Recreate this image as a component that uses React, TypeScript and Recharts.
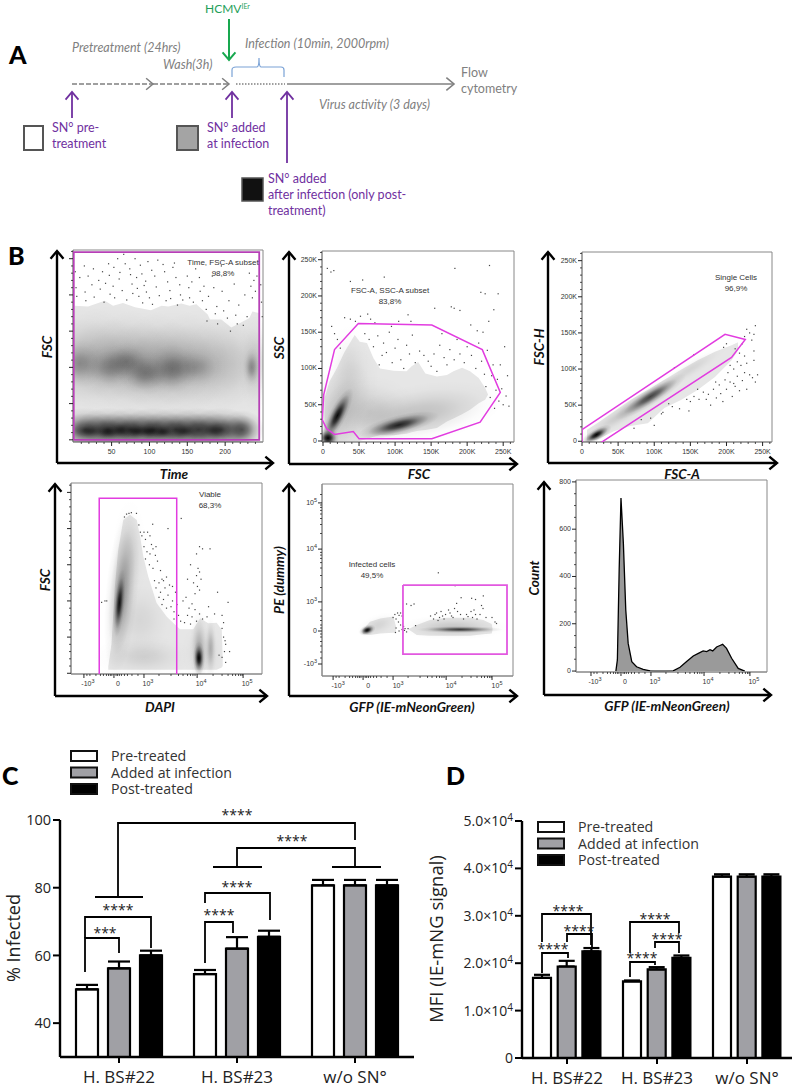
import { BarChart, Bar, ComposedChart, Area, Scatter, XAxis, YAxis, ErrorBar, ReferenceArea } from 'recharts'

// ---------- C / D bars ----------
const groups = ['H. BS#22', 'H. BS#23', 'w/o SN°']
const infectedPre = [50, 54.5, 80.7]
const infectedAdded = [56.2, 62, 80.7]
const infectedPost = [60, 65.5, 80.7]
const infectedPreErr = [1.3, 1.2, 1.6]
const infectedAddedErr = [2, 3.4, 1.6]
const infectedPostErr = [1.4, 1.8, 1.6]
const infectedTicks = [40, 60, 80, 100]

const mfiPre = [16900, 16150, 38270]
const mfiAdded = [19300, 18680, 38270]
const mfiPost = [22500, 21140, 38270]
const mfiPreErr = [650, 210, 490]
const mfiAddedErr = [1200, 490, 490]
const mfiPostErr = [700, 490, 490]
const mfiTicks = [0, 10000, 20000, 30000, 40000, 50000]

// ---------- B, shared axis ticks ----------
const kTicks = [0, 50, 100, 150, 200, 250]
const kLabels = ['0', '50K', '100K', '150K', '200K', '250K']
const kBlank = ['', '', '', '', '', '']
const kMinor = [10, 20, 30, 40, 60, 70, 80, 90, 110, 120, 130, 140, 160, 170, 180, 190, 210, 220, 230, 240, 260]
const timeTicks = [50, 100, 150, 200]
const timeLabels = ['50', '100', '150', '200']
const timeMinor = [10, 20, 30, 40, 60, 70, 80, 90, 110, 120, 130, 140, 160, 170, 180, 190, 210, 220, 230, 240]
const biexTicks = [-1, 0, 1, 2.77, 4.3]
const biexLabels = ['-10^3', '0', '10^3', '10^4', '10^5']
const biexMinor = [-0.9, -0.8, -0.6, -0.45, -0.35, -0.25, -0.18, -0.12, -0.07, 0.07, 0.12, 0.18, 0.25, 0.35, 0.45, 0.6, 0.8, 1.5, 1.9, 2.15, 2.3, 2.45, 2.55, 2.63, 2.7, 3.3, 3.6, 3.8, 3.95, 4.05, 4.15, 4.22, 4.27]
const peYTicks = [-1.1, 0, 0.97, 2.73, 4.27]
const peYLabels = ['-10^3', '0', '10^3', '10^4', '10^5']
const peYMinor = [-0.9, -0.7, -0.5, -0.35, -0.2, -0.1, 0.1, 0.2, 0.35, 0.5, 0.7, 1.45, 1.85, 2.1, 2.28, 2.42, 2.53, 2.62, 3.25, 3.55, 3.75, 3.9, 4.02, 4.12, 4.2, 4.55]
const countTicks = [0, 200, 400, 600, 800]
const countLabels = ['0', '200', '400', '600', '800']
const countMinor = [50, 100, 150, 250, 300, 350, 450, 500, 550, 650, 700, 750]

// ---------- B1, time vs FSC ----------
const timeBand = [[1, 185], [19, 184], [41, 192], [52, 185], [65, 189], [81, 183], [102, 179], [116, 185], [125, 184], [142, 188], [153, 185], [162, 187], [177, 173], [180, 166], [195, 166], [208, 155], [221, 162], [232, 168], [236, 177], [245, 175]]
const timeBlobs = [
  [10, 110, 45, 45, 0, 0.16], [50, 110, 45, 45, 0, 0.18], [90, 105, 45, 45, 0, 0.2], [130, 105, 45, 45, 0, 0.2], [170, 105, 45, 45, 0, 0.16], [210, 105, 40, 45, 0, 0.1], [240, 105, 14, 40, 0, 0.12],
  [8, 105, 20, 20, 0, 0.26], [48, 100, 22, 18, 0, 0.26], [70, 108, 20, 16, 0, 0.26], [95, 92, 22, 18, 0, 0.32], [130, 98, 20, 20, 0, 0.32], [160, 100, 22, 16, 0, 0.2], [235, 100, 7, 16, 0, 0.3],
  [15, 14, 26, 18, 0, 0.66], [45, 14, 26, 18, 0, 0.7], [75, 14, 26, 18, 0, 0.7], [105, 14, 26, 18, 0, 0.7], [135, 14, 26, 18, 0, 0.7], [165, 14, 26, 18, 0, 0.7], [195, 14, 26, 18, 0, 0.66], [222, 14, 18, 16, 0, 0.6],
  [20, 12, 14, 6, 0, 0.45], [45, 11, 10, 6, 0, 0.55], [62, 13, 10, 7, 0, 0.55], [82, 12, 11, 6, 0, 0.55], [100, 12, 12, 6, 0, 0.6], [118, 11, 9, 6, 0, 0.55], [145, 12, 12, 6, 0, 0.45], [187, 13, 12, 7, 0, 0.45],
]
const timeDots = [[2, 232], [3, 210], [4, 198], [8, 224], [14, 240], [15, 204], [16, 192], [19, 226], [24, 214], [26, 236], [27, 197], [33, 220], [35, 208], [38, 232], [40, 190], [42, 216], [46, 243], [47, 227], [48, 201], [52, 212], [53, 238], [54, 196], [58, 250], [60, 222], [61, 231], [64, 206], [66, 256], [68, 243], [70, 193], [74, 236], [75, 228], [77, 215], [78, 202], [81, 250], [83, 224], [84, 209], [86, 198], [88, 241], [90, 229], [91, 189], [93, 213], [95, 219], [96, 204], [98, 246], [100, 196], [103, 234], [104, 187], [107, 226], [109, 211], [111, 248], [113, 199], [118, 242], [120, 232], [122, 192], [124, 218], [127, 206], [128, 195], [131, 238], [133, 244], [135, 224], [137, 186], [140, 214], [141, 200], [144, 193], [150, 226], [152, 210], [153, 196], [156, 218], [158, 190], [161, 236], [166, 224], [167, 205], [170, 192], [172, 212], [175, 180], [176, 164], [178, 198], [183, 226], [185, 210], [187, 174], [189, 184], [190, 160], [195, 240], [196, 205], [198, 178], [203, 168], [205, 192], [207, 150], [212, 215], [214, 172], [216, 160], [218, 186], [224, 158], [226, 200], [229, 170], [232, 230], [234, 212], [236, 196], [238, 220], [240, 205], [242, 226], [247, 214], [248, 190], [249, 170]]
const timeGate = [[0, 0], [0, 259], [150, 259], [245, 259], [245, 0], [0, 0]]

// ---------- B2, FSC vs SSC ----------
const sscBand = [[2, 0, 59], [9, 0, 82], [19, 0, 100], [30, 0, 123], [44, 0, 146], [51, 0, 137], [61, 3, 135], [70, 6, 114], [79, 8, 100], [98, 8, 97], [116, 10, 96], [123, 12, 103], [132, 14, 109], [142, 15, 93], [158, 18, 89], [172, 27, 91], [181, 31, 96], [193, 37, 101], [204, 43, 96], [216, 52, 87], [225, 57, 73], [229, 64, 64]]
const sscBlobs = [
  [25, 45, 55, 26, 70, 0.16], [65, 40, 40, 30, 0, 0.12], [135, 38, 70, 24, 10, 0.16], [35, 105, 18, 34, 0, 0.05], [7, 4, 9, 8, 0, 1], [20, 35, 25, 7, 63, 0.95], [105, 22, 34, 8, 14, 0.85],
]
const sscDots = [[6, 238], [11, 233], [15, 235], [38, 220], [55, 222], [85, 226], [183, 238], [231, 242], [243, 203], [225, 203], [219, 205], [237, 181], [155, 183], [182, 183], [178, 185], [190, 180], [12, 158], [16, 148], [20, 140], [24, 128], [30, 170], [38, 168], [45, 165], [52, 172], [62, 175], [66, 168], [72, 163], [95, 158], [105, 165], [118, 174], [122, 165], [58, 148], [64, 140], [70, 130], [76, 145], [82, 118], [78, 105], [84, 135], [88, 122], [92, 150], [96, 108], [100, 128], [104, 140], [108, 112], [112, 100], [116, 132], [120, 120], [124, 146], [128, 108], [134, 124], [140, 118], [146, 110], [150, 103], [154, 120], [158, 96], [162, 132], [168, 115], [172, 105], [176, 126], [182, 112], [186, 140], [190, 120], [196, 108], [200, 130], [206, 118], [212, 100], [216, 135], [220, 110], [224, 92], [226, 75], [228, 125], [232, 60], [234, 90], [236, 105], [238, 45], [240, 70], [242, 85], [244, 55], [246, 105], [248, 72], [250, 50], [252, 130], [254, 62], [256, 90], [258, 48], [222, 150], [230, 165], [214, 152], [205, 160], [165, 148]]
const sscGate = [[1, 64], [16, 126], [49, 162], [151, 160], [221, 126], [246, 67], [218, 26], [151, 3], [50, 3], [42, 13], [16, 9], [5, 17], [-1, 29], [1, 64]]

// ---------- B3, FSC-A vs FSC-H ----------
const fschBand = [[7, 1, 16], [21, 2, 25], [44, 14, 41], [67, 21, 57], [91, 25, 71], [114, 46, 85], [137, 57, 99], [160, 71, 112], [184, 89, 124], [207, 112, 133], [216, 126, 137]]
const fschBlobs = [[60, 40, 45, 8, 32, 0.14], [150, 100, 36, 7, 32, 0.08], [20, 9, 14, 5, 30, 1], [95, 62, 34, 7, 32, 0.7]]
const fschDots = [[100, 22], [72, 18], [82, 30], [95, 32], [110, 38], [125, 48], [135, 45], [150, 55], [155, 62], [162, 58], [168, 68], [175, 65], [178, 50], [182, 72], [186, 60], [190, 78], [192, 66], [195, 55], [198, 85], [200, 72], [202, 95], [205, 82], [208, 62], [210, 100], [212, 76], [215, 90], [218, 70], [220, 105], [222, 84], [225, 95], [228, 72], [232, 92], [236, 88], [240, 82], [238, 112], [238, 125], [243, 92], [222, 135], [225, 145], [228, 155], [232, 150], [238, 148], [240, 160], [235, 140], [218, 122], [212, 128], [225, 118], [200, 135], [196, 130], [155, 120], [128, 102], [185, 82], [172, 58], [148, 42], [120, 52], [112, 40], [160, 72], [145, 58], [210, 80], [205, 105], [215, 110], [228, 108]]
const fschGate = [[0, 16], [198, 148], [226, 141], [207, 116], [26, -2], [0, -2], [0, 16]]

// ---------- B4, DAPI vs FSC ----------
const dapiBand = [[-0.19, 5, 9], [-0.08, 5, 41], [0.03, 5, 120], [0.14, 5, 170], [0.31, 5, 212], [0.53, 5, 219], [0.76, 5, 212], [0.87, 5, 189], [0.98, 5, 161], [1.14, 5, 134], [1.42, 5, 97], [1.76, 5, 78], [2.09, 5, 65], [2.2, 5, 61], [2.64, 5, 61], [2.87, 5, 76], [3.14, 5, 69], [3.42, 5, 70], [3.59, 8, 60], [3.62, 10, 23]]
const dapiBlobs = [
  [0.26, 111, 0.32, 68, -5, 0.36], [0.53, 166, 0.35, 45, 0, 0.07], [1, 23, 1, 18, 0, 0.1], [0.87, 74, 0.7, 36, 0, 0.07], [0.18, 97, 0.11, 28, -5, 0.9],
  [2.98, 30, 0.45, 26, 0, 0.07], [2.83, 35, 0.18, 32, 0, 0.22], [3.22, 35, 0.12, 26, 0, 0.22], [2.83, 21, 0.12, 14, 0, 1],
]
const dapiDots = [[0.35, 216], [0.42, 220], [0.5, 221], [0.58, 222], [0.75, 221], [0.83, 205], [0.88, 195], [0.93, 190], [1.29, 206], [1.8, 200], [2.24, 214], [1.0, 195], [1.05, 185], [1.12, 195], [1.2, 190], [1.25, 178], [1.0, 175], [1.1, 168], [1.2, 165], [1.3, 172], [1.38, 163], [1.4, 175], [1.05, 158], [1.45, 155], [1.18, 150], [1.3, 145], [1.55, 142], [1.6, 130], [1.35, 128], [1.5, 125], [1.65, 128], [1.75, 133], [1.4, 118], [1.55, 112], [1.7, 118], [1.85, 122], [1.95, 120], [1.5, 105], [1.65, 102], [1.8, 108], [1.95, 100], [2.05, 112], [1.6, 95], [1.75, 90], [1.9, 92], [2.0, 85], [2.1, 95], [2.15, 80], [2.0, 75], [2.22, 72], [2.3, 100], [2.4, 105], [2.5, 90], [2.6, 96], [2.45, 80], [2.6, 78], [2.7, 88], [2.85, 82], [2.35, 70], [2.55, 68], [2.75, 72], [2.95, 75], [3.15, 92], [3.35, 82], [3.1, 78], [2.65, 125], [2.75, 135], [2.8, 145], [2.85, 140], [2.9, 130], [2.78, 120], [2.85, 115], [2.7, 110], [2.75, 165], [2.85, 175], [2.95, 172], [3.2, 172], [2.55, 150], [2.45, 130], [3.45, 112], [3.8, 98], [3.6, 80], [3.65, 70], [3.6, 62], [3.65, 50], [3.7, 45], [3.72, 40], [3.68, 30], [3.6, 22], [3.72, 15], [3.85, 30], [3.5, 25], [-0.41, 98], [-0.3, 100], [-0.24, 100]]
const dapiGate = [[-0.49, -1], [-0.49, 242], [2.09, 242], [2.09, -1]]

// ---------- B5, GFP vs PE ----------
const peBand: (number | null)[][] = [[-0.01, -0.1, 0.03], [0.23, -0.13, 0.31], [0.57, -0.08, 0.42], [1.01, -0.06, 0.48], [1.1, -0.06, 0.14], [1.12, null, null], [1.5, null, null], [1.51, 0.06, 0.06], [1.79, -0.13, 0.2], [2.23, -0.16, 0.37], [2.79, -0.16, 0.44], [3.57, -0.16, 0.44], [4.01, -0.11, 0.37], [4.29, -0.08, 0.23], [4.32, 0.05, 0.06]]
const peBlobs = [[0.5, 0.2, 0.45, 0.22, 20, 0.08], [0.14, 0.03, 0.17, 0.1, 20, 1], [3, 0.12, 1.1, 0.25, 0, 0.14], [3.23, 0.05, 0.85, 0.07, 0, 0.7]]
const peDots = [[1.06, 0.55], [1.15, 0.6], [1.2, 0.52], [1.25, 0.6], [1.0, 0.45], [1.1, 0.4], [1.18, 0.3], [1.3, 0.5], [1.25, 0.2], [1.35, 0.15], [1.3, 0.05], [1.38, 0.02], [1.4, 0.08], [1.1, 0.1], [1.2, 0.0], [1.08, -0.05], [1.45, -0.03], [1.5, 0.08], [1.45, 0.9], [1.6, 0.85], [1.7, 0.9], [1.75, 0.18], [2.25, 0.5], [2.4, 0.55], [2.35, 0.4], [2.45, 0.6], [2.55, 0.45], [2.6, 0.65], [2.65, 0.5], [2.7, 0.4], [2.75, 0.55], [2.85, 0.7], [2.9, 0.6], [2.95, 0.5], [3.0, 0.45], [3.05, 0.75], [3.15, 0.65], [3.25, 0.55], [3.12, 0.92], [3.27, 1.11], [3.35, 0.4], [3.45, 0.55], [3.5, 0.48], [3.6, 0.65], [3.65, 0.45], [3.75, 0.55], [3.7, 0.7], [3.8, 0.4], [3.9, 0.55], [3.95, 0.85], [3.75, 1.05], [4.01, 1.17], [3.62, 1.09], [4.0, 0.75], [4.1, 0.45], [4.4, 0.3], [4.3, 0.45], [4.45, 0.25], [2.5, 0.35], [2.51, 1.94], [3.07, 1.51]]
const peGate = [[1.33, 1.53], [4.8, 1.53], [4.8, -0.77], [1.33, -0.77], [1.33, 1.53]]

// ---------- B6, GFP histogram ----------
const histPos = [-0.17, -0.12, -0.06, 0, 0.08, 0.16, 0.24, 0.36, 0.52, 0.74, 0.97, 1.13, 1.47, 1.74, 1.97, 2.19, 2.41, 2.58, 2.74, 2.86, 2.97, 3.06, 3.19, 3.3, 3.39, 3.52, 3.69, 3.91, 4.13]
const histCount = [0, 47, 428, 732, 540, 258, 117, 40, 18, 7, 1, 0, 0, 1, 16, 40, 64, 75, 85, 82, 90, 85, 102, 108, 113, 96, 54, 11, 0]

const MAGENTA = '#e23ce0'
const PURPLE = '#7030a0'
const GREY = '#808080'
const BARGREY = '#a0a0a5'
const sans = '"Open Sans", sans-serif'
const label = 'Lato, sans-serif'
const facs = '"Liberation Sans", sans-serif'

const AXW = 30
const AXH = 22
const TOP = 4

function supText(s: string, size: number) {
  const [b, e] = s.split('^')
  return e ? <>{b}<tspan dy={-3} fontSize={size}>{e}</tspan></> : b
}

function makeTick(axis: 'x' | 'y', majors: number[], names: string[], dx = 0) {
  return (p: any) => {
    const i = majors.indexOf(p.payload.value)
    const major = i >= 0
    const len = major ? 4 : 2
    if (axis === 'x') {
      return (
        <g>
          <line x1={p.x} x2={p.x} y1={p.y} y2={p.y + len} stroke="#222" strokeWidth={major ? 1 : 0.8} />
          {major && names[i] && (
            <text x={p.x + dx} y={p.y + 12} textAnchor="middle" fontFamily={facs} fontSize={7} fill="#333">{supText(names[i], 5.5)}</text>
          )}
        </g>
      )
    }
    return (
      <g>
        <line x1={p.x - len} x2={p.x} y1={p.y} y2={p.y} stroke="#222" strokeWidth={major ? 1 : 0.8} />
        {major && names[i] && (
          <text x={p.x - 5} y={p.y + 2} textAnchor="end" fontFamily={facs} fontSize={7} fill="#333">{supText(names[i], 5.5)}</text>
        )}
      </g>
    )
  }
}

type FacsProps = {
  id: string
  box: number[]
  xDomain: number[]
  yDomain: number[]
  xMajor: number[]
  xNames: string[]
  xMinor: number[]
  xDx?: number
  yMajor: number[]
  yNames: string[]
  yMinor: number[]
  band?: any[]
  hist?: any[]
  blobs?: number[][]
  dots?: number[][]
  gate?: number[][]
  gateColor?: string
  gateWidth?: number
}

function FacsPlot(props: FacsProps) {
  const { id, box, xDomain, yDomain, band, hist, blobs, dots, gate } = props
  const [l, t, w, h] = box
  const pxX = w / (xDomain[1] - xDomain[0])
  const pxY = h / (yDomain[1] - yDomain[0])
  const blobData = (blobs || []).map(b => ({ x: b[0], y: b[1], sx: b[2], sy: b[3], tilt: b[4], weight: b[5] }))
  const dotData = (dots || []).map(d => ({ x: d[0], y: d[1] }))
  const gateData = (gate || []).map(d => ({ x: d[0], y: d[1] }))
  const blobShape = (p: any) => {
    const d = p.payload || p
    return (
      <g clipPath={`url(#clip-${id})`}>
        <ellipse
          cx={p.cx}
          cy={p.cy}
          rx={d.sx * pxX * 1.7}
          ry={d.sy * pxY * 1.7}
          transform={`rotate(${-d.tilt} ${p.cx} ${p.cy})`}
          fill="url(#blobGrad)"
          fillOpacity={d.weight}
        />
      </g>
    )
  }
  return (
    <div style={{ position: 'absolute', left: l - AXW, top: t - TOP }}>
      <ComposedChart width={w + AXW + 4} height={h + TOP + AXH} data={band || hist} margin={{ top: TOP, right: 4, left: 0, bottom: 0 }}>
        <defs>
          <clipPath id={`clip-${id}`}><rect x={AXW} y={TOP} width={w} height={h} /></clipPath>
        </defs>
        <XAxis
          dataKey="x"
          type="number"
          domain={xDomain}
          allowDataOverflow
          ticks={[...props.xMajor, ...props.xMinor]}
          interval={0}
          height={AXH}
          tickSize={0}
          tickMargin={0}
          tickLine={false}
          axisLine={{ stroke: '#888' }}
          tick={makeTick('x', props.xMajor, props.xNames, props.xDx || 0)}
        />
        <YAxis
          dataKey="y"
          type="number"
          domain={yDomain}
          allowDataOverflow
          ticks={[...props.yMajor, ...props.yMinor]}
          interval={0}
          width={AXW}
          tickSize={0}
          tickMargin={0}
          tickLine={false}
          axisLine={{ stroke: '#888' }}
          tick={makeTick('y', props.yMajor, props.yNames)}
        />
        {band && <Area dataKey="band" type="linear" stroke="none" fill="#e6e6e6" fillOpacity={1} dot={false} activeDot={false} connectNulls={false} isAnimationActive={false} />}
        {hist && <Area dataKey="count" type="linear" stroke="#000" strokeWidth={1.3} fill="#9a9a9a" fillOpacity={1} dot={false} activeDot={false} isAnimationActive={false} />}
        {blobs && <Scatter data={blobData} shape={blobShape} isAnimationActive={false} />}
        {dots && <Scatter data={dotData} shape={(p: any) => <rect x={p.cx - 0.6} y={p.cy - 0.6} width={1.2} height={1.2} fill="#444" />} isAnimationActive={false} />}
        {gate && (
          <Scatter
            data={gateData}
            line={{ stroke: props.gateColor || MAGENTA, strokeWidth: props.gateWidth || 1.5 }}
            shape={() => <g />}
            isAnimationActive={false}
          />
        )}
        <ReferenceArea x1={xDomain[0]} x2={xDomain[1]} y1={yDomain[0]} y2={yDomain[1]} fill="none" stroke="#888" strokeWidth={1} ifOverflow="visible" />
      </ComposedChart>
    </div>
  )
}

function GroupBars({ data, barSize, barGap, domain, ticks, tick, width, height, yWidth, capW }: any) {
  return (
    <BarChart width={width} height={height} data={data} barSize={barSize} barGap={barGap} margin={{ top: 10, right: 5, left: 0, bottom: 0 }}>
      <XAxis dataKey="name" height={34} interval={0} tickSize={6} tickMargin={8} tickLine={{ stroke: '#000', strokeWidth: 2 }} axisLine={{ stroke: '#000', strokeWidth: 2.4 }} tick={{ fontFamily: sans, fontSize: 17, fill: '#222' }} />
      <YAxis domain={domain} ticks={ticks} allowDataOverflow width={yWidth} tickSize={7} tickMargin={2} tickLine={{ stroke: '#000', strokeWidth: 2 }} axisLine={{ stroke: '#000', strokeWidth: 2.4 }} tick={tick} interval={0} />
      <Bar dataKey="pre" fill="#fff" stroke="#000" strokeWidth={2.2} isAnimationActive={false}>
        <ErrorBar dataKey="preErr" direction="y" width={capW} stroke="#000" strokeWidth={2.2} isAnimationActive={false} />
      </Bar>
      <Bar dataKey="added" fill={BARGREY} stroke="#000" strokeWidth={2.2} isAnimationActive={false}>
        <ErrorBar dataKey="addedErr" direction="y" width={capW} stroke="#000" strokeWidth={2.2} isAnimationActive={false} />
      </Bar>
      <Bar dataKey="post" fill="#000" stroke="#000" strokeWidth={2.2} isAnimationActive={false}>
        <ErrorBar dataKey="postErr" direction="y" width={capW} stroke="#000" strokeWidth={2.2} isAnimationActive={false} />
      </Bar>
    </BarChart>
  )
}

function buildBars(pre: number[], added: number[], post: number[], preE: number[], addedE: number[], postE: number[]) {
  return groups.map((name, i) => ({
    name,
    pre: pre[i],
    added: added[i],
    post: post[i],
    preErr: [0, preE[i]],
    addedErr: [0, addedE[i]],
    postErr: [0, postE[i]],
  }))
}

const sciTick = (p: any) => {
  const v = p.payload.value
  return (
    <text x={p.x} y={p.y + 5} textAnchor="end" fontFamily={sans} fontSize={14} fill="#222">
      {v === 0 ? '0' : <>{(v / 10000).toFixed(1)}×10<tspan dy={-5} fontSize={10}>4</tspan></>}
    </text>
  )
}

// open arrow: shaft plus chevron
function Arrow({ x1, y1, x2, y2, color, w = 1.6, head = 7, dash }: any) {
  const a = Math.atan2(y2 - y1, x2 - x1)
  const p = (s: number) => `${x2 - head * Math.cos(a + s * 0.7)},${y2 - head * Math.sin(a + s * 0.7)}`
  return (
    <g stroke={color} strokeWidth={w} fill="none">
      <line x1={x1} y1={y1} x2={x2} y2={y2} strokeDasharray={dash} />
      <polyline points={`${p(1)} ${x2},${y2} ${p(-1)}`} />
    </g>
  )
}

// path helper for significance brackets
const Br = ({ d }: { d: string }) => <path d={d} fill="none" stroke="#000" strokeWidth={1.8} />
const Stars = ({ x, y, n = 4 }: any) => (
  <text x={x} y={y + 7} textAnchor="middle" fontFamily={sans} fontSize={14} fill="#222">{'*'.repeat(n)}</text>
)

function LegendBox({ x, y, tx, ty, boxW, boxH }: any) {
  const names = ['Pre-treated', 'Added at infection', 'Post-treated']
  const fills = ['#fff', BARGREY, '#000']
  return (
    <>
      {names.map((n, i) => (
        <g key={n}>
          <rect x={x} y={y + i * 16.5} width={boxW} height={boxH} fill={fills[i]} stroke="#111" strokeWidth={2} />
          <text x={tx} y={ty + i * 16.5} fontFamily={sans} fontSize={14.2} fill="#333">{n}</text>
        </g>
      ))}
    </>
  )
}

const AxisTitle = ({ x, y, rot, children }: any) => (
  <text x={x} y={y} transform={rot ? `rotate(-90 ${x} ${y})` : undefined} textAnchor="middle" fontFamily={label} fontSize={13.6} fontWeight={700} fontStyle="italic" fill="#111">{children}</text>
)

const BigAxes = ({ x, y, top, right }: any) => (
  <g>
    <Arrow x1={x} y1={y} x2={x} y2={top} color="#000" w={2.4} head={10} />
    <Arrow x1={x} y1={y} x2={right} y2={y} color="#000" w={2.4} head={10} />
  </g>
)

const GateNote = ({ x, y, a, b }: any) => (
  <g fontFamily={facs} fontSize={8} fill="#333" textAnchor="middle">
    <text x={x} y={y}>{a}</text>
    <text x={x} y={y + 11}>{b}</text>
  </g>
)

export default function App() {
  const infected = buildBars(infectedPre, infectedAdded, infectedPost, infectedPreErr, infectedAddedErr, infectedPostErr)
  const mfi = buildBars(mfiPre, mfiAdded, mfiPost, mfiPreErr, mfiAddedErr, mfiPostErr)
  const timeRows = timeBand.map(r => ({ x: r[0], band: [1, r[1]] }))
  const toRows = (rows: any[]) => rows.map(r => ({ x: r[0], band: r[1] === null ? null : [r[1], r[2]] }))
  const histRows = histPos.map((x, i) => ({ x, count: histCount[i] }))

  return (
    <div style={{ position: 'absolute', left: 0, top: 0, width: 797, height: 1092, background: '#fff', overflow: 'hidden' }}>
      <svg width={0} height={0} style={{ position: 'absolute' }}>
        <defs>
          <radialGradient id="blobGrad">
            <stop offset="0%" stopColor="#000" stopOpacity={1} />
            <stop offset="25%" stopColor="#000" stopOpacity={0.78} />
            <stop offset="50%" stopColor="#000" stopOpacity={0.38} />
            <stop offset="75%" stopColor="#000" stopOpacity={0.1} />
            <stop offset="100%" stopColor="#000" stopOpacity={0} />
          </radialGradient>
        </defs>
      </svg>

      <FacsPlot id="b1" box={[73, 250, 190, 192]} xDomain={[-1, 250]} yDomain={[-3, 262]} xMajor={timeTicks} xNames={timeLabels} xMinor={timeMinor} yMajor={kTicks} yNames={kBlank} yMinor={kMinor} band={timeRows} blobs={timeBlobs} dots={timeDots} gate={timeGate} gateColor="#b63fb6" gateWidth={1.8} />
      <FacsPlot id="b2" box={[322, 251, 192, 191]} xDomain={[-1.4, 265]} yDomain={[-1.4, 262]} xMajor={kTicks} xNames={kLabels} xMinor={kMinor} yMajor={kTicks} yNames={kLabels} yMinor={kMinor} band={toRows(sscBand)} blobs={sscBlobs} dots={sscDots} gate={sscGate} />
      <FacsPlot id="b3" box={[582, 252, 190, 190]} xDomain={[0, 263]} yDomain={[-1, 262]} xMajor={kTicks} xNames={kLabels} xMinor={kMinor} yMajor={kTicks} yNames={kLabels} yMinor={kMinor} band={toRows(fschBand)} blobs={fschBlobs} dots={fschDots} gate={fschGate} />
      <FacsPlot id="b4" box={[71, 483, 191, 191]} xDomain={[-1.43, 4.93]} yDomain={[-1, 263]} xMajor={biexTicks} xNames={biexLabels} xMinor={biexMinor} xDx={4} yMajor={kTicks} yNames={kBlank} yMinor={kMinor} band={toRows(dapiBand)} blobs={dapiBlobs} dots={dapiDots} gate={dapiGate} />
      <FacsPlot id="b5" box={[322, 484, 191, 192]} xDomain={[-1.37, 5]} yDomain={[-1.5, 4.9]} xMajor={biexTicks} xNames={biexLabels} xMinor={biexMinor} xDx={5} yMajor={peYTicks} yNames={peYLabels} yMinor={peYMinor} band={toRows(peBand)} blobs={peBlobs} dots={peDots} gate={peGate} gateColor="#e258e0" gateWidth={1.8} />
      <FacsPlot id="b6" box={[576, 480, 191, 192]} xDomain={[-1.5, 4.87]} yDomain={[-4, 808]} xMajor={biexTicks} xNames={biexLabels} xMinor={biexMinor} xDx={4} yMajor={countTicks} yNames={countLabels} yMinor={countMinor} hist={histRows} />

      <div style={{ position: 'absolute', left: 0, top: 810 }}>
        <GroupBars data={infected} barSize={22} barGap={10} domain={[30, 100]} ticks={infectedTicks} width={419} height={281} yWidth={60} capW={11} tick={{ fontFamily: sans, fontSize: 14.5, fill: '#222' }} />
      </div>
      <div style={{ position: 'absolute', left: 440, top: 811 }}>
        <GroupBars data={mfi} barSize={18} barGap={6.7} domain={[0, 50000]} ticks={mfiTicks} width={357} height={281} yWidth={82} capW={8} tick={sciTick} />
      </div>

      <svg width={797} height={1092} style={{ position: 'absolute', left: 0, top: 0, pointerEvents: 'none' }}>
        {/* panel letters */}
        <g fontFamily={label} fontWeight={900} fontSize={25} fill="#000">
          <text x={9} y={64}>A</text>
          <text x={8} y={265}>B</text>
          <text x={2} y={785}>C</text>
          <text x={446} y={785}>D</text>
        </g>

        {/* A, timeline */}
        <text x={205} y={13} fontFamily={label} fontSize={12} fill="#1fa05a">HCMV<tspan dy={-4} fontSize={7}>IEr</tspan></text>
        <Arrow x1={229} y1={19} x2={229} y2={60} color="#18a84f" w={2} head={10} />
        <g fontFamily={label} fontSize={12.5} fontStyle="italic" fill={GREY}>
          <text x={72} y={52}>Pretreatment (24hrs)</text>
          <text x={163} y={69}>Wash(3h)</text>
          <text x={245} y={48}>Infection (10min, 2000rpm)</text>
          <text x={319} y={109}>Virus activity (3 days)</text>
        </g>
        <g fontFamily={label} fontSize={12.5} fill={GREY}>
          <text x={461} y={77}>Flow</text>
          <text x={461} y={93}>cytometry</text>
        </g>
        <Arrow x1={72} y1={84} x2={153} y2={84} color={GREY} w={1.5} head={9} dash="5 2" />
        <Arrow x1={153} y1={84} x2={229} y2={84} color={GREY} w={1.5} head={9} dash="5 2" />
        <line x1={236} y1={84} x2={285} y2={84} stroke={GREY} strokeWidth={1.5} strokeDasharray="1.5 1.5" />
        <Arrow x1={287} y1={84} x2={454} y2={84} color={GREY} w={1.6} head={10} />
        <path d="M232 77 V70 Q232 67 236 67 H257 Q259 67 259 58 Q259 67 261 67 H281 Q284 67 284 70 V77" fill="none" stroke="#7aa2d6" strokeWidth={1.2} />
        <Arrow x1={72} y1={118} x2={72} y2={92} color={PURPLE} w={1.8} head={10} />
        <Arrow x1={232} y1={118} x2={232} y2={92} color={PURPLE} w={1.8} head={10} />
        <Arrow x1={287} y1={163} x2={287} y2={92} color={PURPLE} w={1.8} head={10} />
        <rect x={24} y={126} width={19} height={24} fill="#fff" stroke="#555" strokeWidth={2} />
        <rect x={177} y={126} width={21} height={24} fill="#a4a4a4" stroke="#555" strokeWidth={2} />
        <rect x={242} y={178} width={21} height={23} fill="#111" stroke="#555" strokeWidth={1.5} />
        <g fontFamily={label} fontSize={12.5} fill={PURPLE}>
          <text x={52} y={132}>SN° pre-</text>
          <text x={52} y={148}>treatment</text>
          <text x={207} y={132}>SN° added</text>
          <text x={207} y={148}>at infection</text>
          <text x={268} y={183}>SN° added</text>
          <text x={268} y={199}>after infection (only post-</text>
          <text x={268} y={215}>treatment)</text>
        </g>

        {/* B, axes and gate notes */}
        <BigAxes x={57} y={463} top={251} right={273} />
        <BigAxes x={289} y={464} top={252} right={517} />
        <BigAxes x={548} y={463} top={252} right={777} />
        <BigAxes x={55} y={696} top={484} right={267} />
        <BigAxes x={289} y={696} top={484} right={517} />
        <BigAxes x={544} y={695} top={482} right={771} />
        <AxisTitle x={52} y={347} rot>FSC</AxisTitle>
        <AxisTitle x={174} y={479}>Time</AxisTitle>
        <AxisTitle x={284} y={348} rot>SSC</AxisTitle>
        <AxisTitle x={419} y={479}>FSC</AxisTitle>
        <AxisTitle x={544} y={347} rot>FSC-H</AxisTitle>
        <AxisTitle x={682} y={479}>FSC-A</AxisTitle>
        <AxisTitle x={50} y={580} rot>FSC</AxisTitle>
        <AxisTitle x={160} y={712}>DAPI</AxisTitle>
        <AxisTitle x={284} y={580} rot>PE (dummy)</AxisTitle>
        <AxisTitle x={412} y={712}>GFP (IE-mNeonGreen)</AxisTitle>
        <AxisTitle x={539} y={578} rot>Count</AxisTitle>
        <AxisTitle x={667} y={711}>GFP (IE-mNeonGreen)</AxisTitle>
        <GateNote x={223} y={265} a="Time, FSC-A subset" b="98,8%" />
        <GateNote x={390} y={293} a="FSC-A, SSC-A subset" b="83,8%" />
        <GateNote x={736} y={280} a="Single Cells" b="96,9%" />
        <GateNote x={210} y={497} a="Viable" b="68,3%" />
        <GateNote x={372} y={567} a="Infected cells" b="49,5%" />

        {/* C */}
        <LegendBox x={71} y={751} tx={111} ty={761} boxW={26} boxH={10} />
        <text x={20} y={938} transform="rotate(-90 20 938)" textAnchor="middle" fontFamily={sans} fontSize={18} fill="#222">% Infected</text>
        <Br d="M85 972 V938 H119 V953" />
        <Br d="M85 938 V917 H151 V948" />
        <Stars x={105} y={931} n={3} />
        <Stars x={118} y={908} />
        <Br d="M95 897 H143 M118 897 V823 H355 V840" />
        <Stars x={237} y={813} />
        <Br d="M213 867 H262 M237 867 V848 H355 V867 M332 867 H381" />
        <Stars x={292} y={839} />
        <Br d="M205 903 V893 H270 V920" />
        <Stars x={237} y={885} />
        <Br d="M205 963 V922 H233 V933" />
        <Stars x={219} y={913} />

        {/* D */}
        <LegendBox x={538} y={822} tx={578} ty={832} boxW={26} boxH={10} />
        <text x={443} y={939} transform="rotate(-90 443 939)" textAnchor="middle" fontFamily={sans} fontSize={18.5} fill="#222">MFI (IE-mNG signal)</text>
        <Br d="M542 942 V914 H591 V945" />
        <Stars x={568} y={909} />
        <Br d="M567 942 V934 H592 V947" />
        <Stars x={579} y={929} />
        <Br d="M542 973 V953 H568 V958" />
        <Stars x={553} y={947} />
        <Br d="M630 953 V922 H679 V933" />
        <Stars x={655} y={917} />
        <Br d="M655 948 V942 H679 V953" />
        <Stars x={667} y={937} />
        <Br d="M630 977 V962 H655 V965" />
        <Stars x={642} y={956} />
      </svg>
    </div>
  )
}
